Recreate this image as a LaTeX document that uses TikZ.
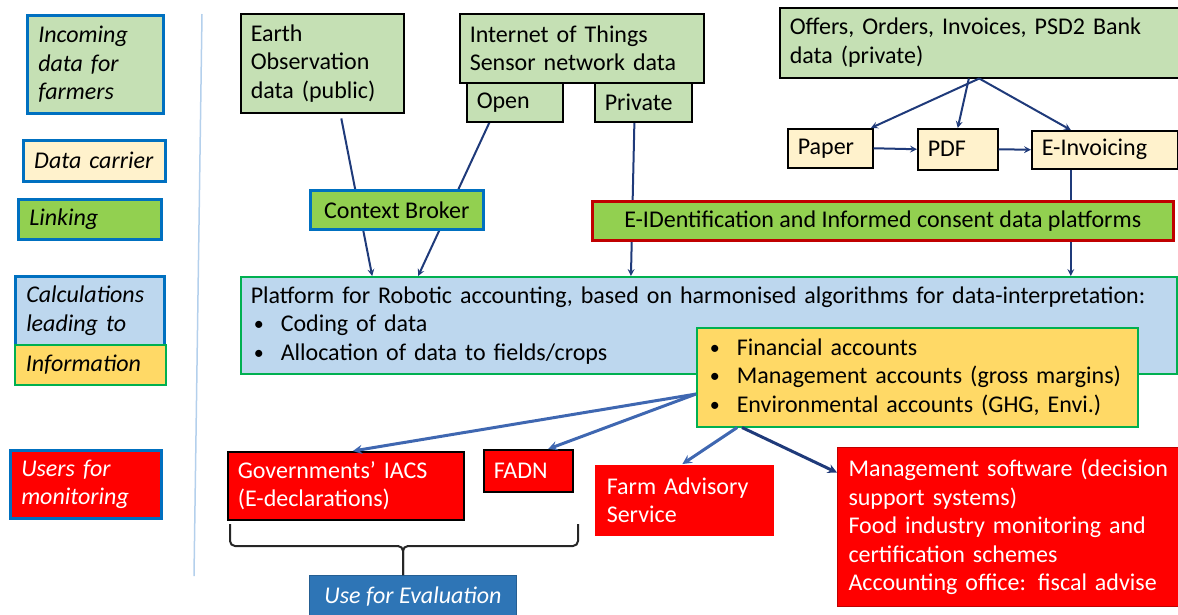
\documentclass[tikz,border=0pt]{standalone}
\usepackage{fontspec}
\setmainfont{Carlito}
\usetikzlibrary{calc,backgrounds}
\definecolor{datagreen}{HTML}{C5E0B4}
\definecolor{carrier}{HTML}{FFF2CC}
\definecolor{linkgreen}{HTML}{92D050}
\definecolor{calcblue}{HTML}{BDD7EE}
\definecolor{infogold}{HTML}{FFD966}
\definecolor{legendblue}{HTML}{0070C0}
\definecolor{framegreen}{HTML}{00B050}
\definecolor{darkred}{HTML}{C00000}
\definecolor{navy}{HTML}{1F3A7A}
\definecolor{midblue}{HTML}{3F67B1}
\definecolor{evalblue}{HTML}{2E75B6}
\definecolor{sepblue}{HTML}{B4D0EC}
\newcommand{\mainsize}{\fontsize{24}{28.5}\selectfont}
\newcommand{\itembul}{\hspace*{3pt}\makebox[27pt][l]{\raisebox{1pt}{\fontsize{20}{24}\selectfont\textbullet}}}
\begin{document}
\begin{tikzpicture}[>=stealth, x=1pt, y=-1pt,
		box/.style={draw=black, line width=1.5pt, anchor=north west, inner xsep=10pt, inner ysep=0pt, align=left, font=\mainsize},
		legend/.style={box, draw=legendblue, line width=2.5pt, inner xsep=11pt, font=\mainsize\itshape},
		user/.style={box, fill=red, text=white},
		flow/.style={->, draw=navy, line width=2pt},
		feed/.style={->, draw=midblue, line width=3pt},
		bracket/.style={draw=black!85, line width=2pt, rounded corners=5pt}]
		\useasboundingbox (0,0) rectangle (1178,614);
		
		% legend
		\node[legend, fill=datagreen, text width=114pt, minimum height=98pt] (legin) at (26,14) {Incoming\\data for\\farmers};
		\node[legend, fill=carrier, text width=120pt, minimum height=41pt] (legcarrier) at (22,139) {Data carrier};
		\node[legend, fill=linkgreen, text width=121pt, minimum height=40pt] (leglink) at (17,198) {Linking};
		\node[legend, fill=calcblue, text width=127pt, minimum height=69pt] (legcalc) at (14,275) {Calculations\\leading to};
		\node[legend, fill=infogold, draw=framegreen, line width=1.5pt, text width=129pt, minimum height=40pt] (leginfo) at (14,344) {Information};
		\node[legend, fill=red, text=white, text width=129pt, minimum height=68pt] (legusers) at (9,449) {Users for\\monitoring};
		\draw[sepblue, line width=1.5pt] (202,14) -- (194,576);
		
		% incoming data
		\node[box, fill=datagreen, text width=143pt, minimum height=99pt] (earth) at (240,13) {Earth\\Observation\\data (public)};
		\node[box, fill=datagreen, text width=224pt, minimum height=69pt] (iot) at (459,13) {Internet of Things\\Sensor network data};
		\node[box, fill=datagreen, text width=76pt, minimum height=39pt] (open) at (466,82) {Open};
		\node[box, fill=datagreen, text width=77pt, minimum height=39pt] (private) at (594,82) {Private};
		\node[box, fill=datagreen, text width=379pt, minimum height=70pt] (offers) at (779,7) {Offers, Orders, Invoices, PSD2 Bank\\data (private)};
		
		% data carriers
		\node[box, fill=carrier, text width=65pt, minimum height=39pt] (paper) at (787,128) {Paper};
		\node[box, fill=carrier, text width=60pt, minimum height=41pt] (pdf) at (917,128) {PDF};
		\node[box, fill=carrier, text width=126pt, minimum height=38pt] (einv) at (1031,130) {E-Invoicing};
		
		% linking
		\node[box, fill=linkgreen, draw=legendblue, line width=2.5pt, align=center, minimum width=173pt, minimum height=39pt] (broker) at (309,189) {Context Broker};
		\node[box, fill=linkgreen, draw=darkred, line width=2.5pt, align=center, minimum width=581pt, minimum height=39pt] (eid) at (591,200) {E-IDentification and Informed consent data platforms};
		
		% calculations and information
		\node[box, fill=calcblue, draw=framegreen, text width=916pt, minimum height=97pt] (platform) at (240,276) {Platform for Robotic accounting, based on harmonised algorithms for data-interpretation:\\\itembul Coding of data\\\itembul Allocation of data to fields/crops};
		\node[box, fill=infogold, draw=framegreen, text width=421pt, minimum height=99pt] (info) at (696,327) {\itembul Financial accounts\\\itembul Management accounts (gross margins)\\\itembul Environmental accounts (GHG, Envi.)};
		
		% users
		\node[user, text width=216pt, minimum height=68pt] (govt) at (227,451) {Governments’ IACS\\(E-declarations)};
		\node[user, text width=69pt, minimum height=42pt] (fadn) at (483,449) {FADN};
		\node[user, draw=none, inner xsep=12pt, text width=155pt, minimum height=71pt] (advisory) at (594,464) {Farm Advisory\\Service};
		\node[user, draw=darkred, line width=1pt, inner xsep=11pt, text width=321pt, minimum height=159pt] (mgmt) at (837,447) {Management software (decision\\support systems)\\Food industry monitoring and\\certification schemes\\Accounting office: fiscal advise};
		\node[box, fill=evalblue, draw=evalblue!80!black, line width=1pt, text=white, font=\mainsize\itshape, align=center, minimum width=207pt, minimum height=43pt] (eval) at (309,575) {Use for Evaluation};
		
		% connectors
		\begin{scope}[on background layer]
			\draw[flow, shorten <=5pt] ($(earth.south west)!0.61!(earth.south east)$) -- ($(platform.north west)!0.141!(platform.north east)$);
			\draw[flow] ($(open.south west)!0.24!(open.south east)$) -- ($(platform.north west)!0.19!(platform.north east)$);
			\draw[flow] ($(private.south west)!0.41!(private.south east)$) -- ($(platform.north west)!0.417!(platform.north east)$);
			\coordinate (einvfoot) at ($(einv.south west)!0.27!(einv.south east)$);
			\draw[flow] (einvfoot) -- (einvfoot |- platform.north);
		\end{scope}
		\draw[flow] (offers.south) -- ($(paper.north west)!0.97!(paper.north east)$);
		\draw[flow] ($(offers.south west)!0.474!(offers.south east)$) -- (pdf.north);
		\draw[flow] (offers.south) -- ($(einv.north west)!0.27!(einv.north east)$);
		\draw[flow] (paper.east) -- (pdf.west);
		\draw[flow] (pdf.east) -- (einv.west);
		
		\coordinate (infoleft) at ($(info.north west)!0.667!(info.south west)$);
		\draw[feed] (infoleft) -- ($(govt.north west)!0.53!(govt.north east)$);
		\draw[feed] (infoleft) -- ($(fadn.north west)!0.72!(fadn.north east)$);
		\draw[feed] ($(info.south west)!0.093!(info.south east)$) -- ($(advisory.north west)!0.49!(advisory.north east)$);
		\draw[feed, draw=navy] ($(info.south west)!0.104!(info.south east)$) -- ($(mgmt.north west)!0.16!(mgmt.south west)$);
		
		\coordinate (bl) at (230,524);
		\coordinate (br) at (578,524);
		\coordinate (bm) at (403,546);
		\draw[bracket] (bl) |- (bm) -- (bm |- eval.north);
		\draw[bracket] (br) |- (bm) -- (bm |- eval.north);
	\end{tikzpicture}
\end{document}
